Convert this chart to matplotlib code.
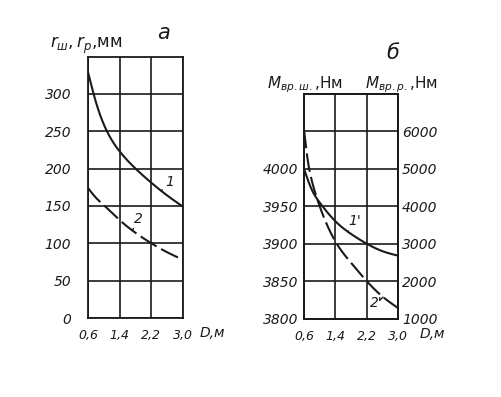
import matplotlib
matplotlib.use("Agg")
import matplotlib.pyplot as plt
import numpy as np

# ---- data ----
D = [0.6, 0.8, 1.0, 1.4, 1.8, 2.2, 2.6, 3.0]
r_sh = [329, 289, 259, 223, 200, 181, 164, 149]           # curve 1
r_r = [174, 161, 151, 131, 114, 100, 88, 78]              # curve 2 (dashed)

D_b = [0.6, 0.7, 0.8, 1.0, 1.4, 1.8, 2.2, 2.6, 3.0]
M_sh = [4000, 3985, 3972, 3955, 3930, 3913, 3900, 3890, 3884]   # curve 1' (left axis)
M_r = [6050, 5200, 4680, 4000, 3060, 2490, 2000, 1590, 1280]    # curve 2' (right axis)

x_ticks = [0.6, 1.4, 2.2, 3.0]
x_labels = ["0,6", "1,4", "2,2", "3,0"]
a_yticks = [0, 50, 100, 150, 200, 250, 300]
b_left_ticks = [3800, 3850, 3900, 3950, 4000, 4050]
b_left_labels = ["3800", "3850", "3900", "3950", "4000", ""]
b_right_ticks = [1000, 2000, 3000, 4000, 5000, 6000]

plt.rcParams['font.family'] = ['DejaVu Sans']
plt.rcParams['mathtext.fontset'] = 'dejavusans'
INK = '#1a1a1a'
FSY = 10
FSX = 9

fig = plt.figure(figsize=(5.01, 3.97), dpi=100)
fig.patch.set_facecolor('white')

def smooth(x, y, n=300):
    """Natural cubic spline through the read points."""
    x = np.asarray(x, float); y = np.asarray(y, float)
    k = len(x); h = np.diff(x)
    A = np.zeros((k, k)); b = np.zeros(k)
    A[0, 0] = A[-1, -1] = 1
    for i in range(1, k - 1):
        A[i, i-1] = h[i-1]; A[i, i] = 2*(h[i-1] + h[i]); A[i, i+1] = h[i]
        b[i] = 6*((y[i+1]-y[i])/h[i] - (y[i]-y[i-1])/h[i-1])
    M = np.linalg.solve(A, b)
    xs = np.linspace(x[0], x[-1], n); ys = np.empty_like(xs)
    for j, xv in enumerate(xs):
        i = int(np.clip(np.searchsorted(x, xv) - 1, 0, k - 2))
        t1 = x[i+1] - xv; t0 = xv - x[i]
        ys[j] = (M[i]*t1**3 + M[i+1]*t0**3)/(6*h[i]) \
            + (y[i]/h[i] - M[i]*h[i]/6)*t1 + (y[i+1]/h[i] - M[i+1]*h[i]/6)*t0
    return xs, ys

def style(ax, pad_y):
    for s in ax.spines.values():
        s.set_color(INK); s.set_linewidth(1.3)
    ax.tick_params(axis='x', length=0, labelsize=FSX, colors=INK, pad=8)
    ax.tick_params(axis='y', length=0, labelsize=FSY, colors=INK, pad=pad_y)
    for t in ax.get_xticklabels() + ax.get_yticklabels():
        t.set_fontstyle('italic')

ann = dict(fontsize=10, style='italic', color=INK, ha='center', va='center')
arr = dict(arrowstyle='-', color=INK, lw=1, shrinkA=3, shrinkB=0)

# ---- panel a ----
ax1 = fig.add_axes([88/501, 1-318/397, 95/501, 261.5/397])
ax1.set_xlim(0.6, 3.0); ax1.set_ylim(0, 350)
ax1.set_xticks(x_ticks, x_labels)
ax1.set_yticks(a_yticks, [str(v) for v in a_yticks])
ax1.grid(True, color=INK, lw=1.2)
ax1.set_axisbelow(True)
xs, ys = smooth(D, r_sh)
ax1.plot(xs, ys, color=INK, lw=1.5)
xs, ys = smooth(D, r_r)
ax1.plot(xs, ys, color=INK, lw=1.5, dashes=(9, 2.5))
ax1.annotate("1", xy=(2.45, 170), xytext=(2.66, 182), arrowprops=arr, **ann)
ax1.annotate("2", xy=(1.72, 117), xytext=(1.88, 133), arrowprops=arr, **ann)
style(ax1, 12)
fig.text(50/501, 1-45/397, r"$r_{ш}, r_{р}$,мм", fontsize=12, color=INK, ha='left', va='center')
fig.text(164/501, 1-33/397, "а", fontsize=15, style='italic', color=INK, ha='center', va='center')
fig.text(212/501, 1-333/397, "D,м", fontsize=10, style='italic', color=INK, ha='center', va='center')

# ---- panel b ----
ax2 = fig.add_axes([304/501, 1-318.5/397, 94/501, 224.5/397])
ax2.set_xlim(0.6, 3.0); ax2.set_ylim(3800, 4100)
ax2.set_xticks(x_ticks, x_labels)
ax2.set_yticks(b_left_ticks, b_left_labels)
ax2.grid(True, color=INK, lw=1.2)
ax2.set_axisbelow(True)
xs, ys = smooth(D_b, M_sh)
ax2.plot(xs, ys, color=INK, lw=1.5)
ax3 = ax2.twinx()
ax3.set_ylim(1000, 7000)
ax3.set_yticks(b_right_ticks, [str(v) for v in b_right_ticks])
xs, ys = smooth(D_b, M_r)
ax3.plot(xs, ys, color=INK, lw=1.5, dashes=(9, 2.5))
ax2.annotate("1'", xy=(1.72, 3916), xytext=(1.9, 3930), arrowprops=arr, **ann)
ax3.annotate("2'", xy=(2.62, 1570), xytext=(2.45, 1420), arrowprops=arr, **ann)
style(ax2, 4); style(ax3, 3)
fig.text(267/501, 1-85/397, r"$M_{вр.ш.}$,Нм", fontsize=11, color=INK, ha='left', va='center')
fig.text(365/501, 1-85/397, r"$M_{вр.р.}$,Нм", fontsize=11, color=INK, ha='left', va='center')
fig.text(393/501, 1-53/397, "б", fontsize=15, style='italic', color=INK, ha='center', va='center')
fig.text(432/501, 1-334/397, "D,м", fontsize=10, style='italic', color=INK, ha='center', va='center')

fig.savefig("out.png", dpi=100, facecolor='white')
